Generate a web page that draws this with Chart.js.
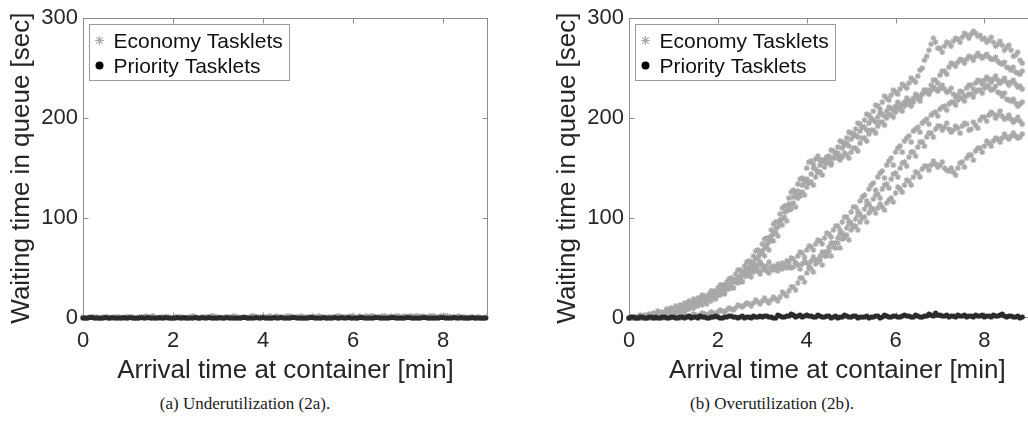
<!DOCTYPE html>
<html>
<head>
<meta charset="utf-8">
<script src="https://cdn.jsdelivr.net/npm/chart.js@4.4.1/dist/chart.umd.min.js"></script>
<style>
  html, body { margin: 0; padding: 0; background: #fff; overflow: hidden; }
  #page { position: relative; width: 1028px; height: 428px; overflow: hidden; background: #fff; }
  .panel { position: absolute; top: 0; height: 390px; }
  #wrapA { left: 0; width: 514px; }
  #wrapB { left: 514px; width: 537px; }
  .cap { position: absolute; top: 394px; font-family: "Liberation Serif", "Times New Roman", serif;
         font-size: 17px; color: #1a1a1a; white-space: nowrap; transform: translateX(-50%); }
</style>
</head>
<body>
<div id="page">
  <div class="panel" id="wrapA"><canvas id="chartA" width="514" height="390"></canvas></div>
  <div class="panel" id="wrapB"><canvas id="chartB" width="537" height="390"></canvas></div>
  <div class="cap" style="left:245px">(a) Underutilization (2a).</div>
  <div class="cap" style="left:772px">(b) Overutilization (2b).</div>
</div>
<script>
// Arrival times of the sampled tasklets [min]
const arrivalMin = [
  0.0,0.1,0.2,0.3,0.4,0.5,0.6,0.7,0.8,0.9,
  1.0,1.1,1.2,1.3,1.4,1.5,1.6,1.7,1.8,1.9,
  2.0,2.1,2.2,2.3,2.4,2.5,2.6,2.7,2.8,2.9,
  3.0,3.1,3.2,3.3,3.4,3.5,3.6,3.7,3.8,3.9,
  4.0,4.1,4.2,4.3,4.4,4.5,4.6,4.7,4.8,4.9,
  5.0,5.1,5.2,5.3,5.4,5.5,5.6,5.7,5.8,5.9,
  6.0,6.1,6.2,6.3,6.4,6.5,6.6,6.7,6.8,6.9,
  7.0,7.1,7.2,7.3,7.4,7.5,7.6,7.7,7.8,7.9,
  8.0,8.1,8.2,8.3,8.4,8.5,8.6,8.7,8.8,8.9
];
// Arrival times of the tasklets that came in between [min]
const arrivalMinMid = [
  0.05,0.15,0.25,0.35,0.45,0.55,0.65,0.75,0.85,0.95,
  1.05,1.15,1.25,1.35,1.45,1.55,1.65,1.75,1.85,1.95,
  2.05,2.15,2.25,2.35,2.45,2.55,2.65,2.75,2.85,2.95,
  3.05,3.15,3.25,3.35,3.45,3.55,3.65,3.75,3.85,3.95,
  4.05,4.15,4.25,4.35,4.45,4.55,4.65,4.75,4.85,4.95,
  5.05,5.15,5.25,5.35,5.45,5.55,5.65,5.75,5.85,5.95,
  6.05,6.15,6.25,6.35,6.45,6.55,6.65,6.75,6.85,6.95,
  7.05,7.15,7.25,7.35,7.45,7.55,7.65,7.75,7.85,7.95,
  8.05,8.15,8.25,8.35,8.45,8.55,8.65,8.75,8.85,8.95
];

// Axis ticks
const minuteTicks = [0, 2, 4, 6, 8];
const waitTicks = [0, 100, 200, 300];

// (a) Underutilization: waiting times [sec]
const underEconomy = [
  1,0,1,1,0,1,0,1,1,0,
  1,1,0,1,2,1,1,0,1,1,
  0,1,1,0,1,1,0,1,1,2,
  1,0,1,1,1,0,1,1,2,1,
  1,1,0,2,1,1,2,1,1,0,
  1,2,1,1,0,1,1,2,1,1,
  1,0,1,2,2,1,1,2,1,1,
  2,1,1,2,2,1,1,2,2,1,
  1,2,1,1,0,1,1,0,1,0
];
const underEconomyMid = [
  0,1,1,0,1,1,0,1,0,1,
  1,0,1,1,1,2,0,1,1,0,
  1,1,0,1,2,0,1,1,2,1,
  0,1,1,2,1,1,0,2,1,1,
  1,2,1,1,1,2,1,1,2,1,
  1,1,2,1,1,1,2,1,1,2,
  1,2,1,1,2,1,2,1,2,2,
  1,2,2,1,2,2,1,2,1,2,
  2,1,1,2,1,0,1,1,0,1
];
const underPriority = [
  0,0,0.5,0,0,0.5,0,0,0,0.5,
  0,0,0,0.5,0,0,0,0.5,0,0,
  0,0.5,0,0,0,0.5,0,0,0.5,0,
  0,0,0.5,0,0,0,0.5,0,0,0,
  0.5,0,0,0,0.5,0,0,0.5,0,0,
  0,0.5,0,0,0,0,0.5,0,0,0.5,
  0,0,0.5,0,0,0.5,0,0,0,0.5,
  0,0,0.5,0,0,0,0.5,0,0,0,
  0.5,0,0,0,0.5,0,0,0,0,0
];
const underPriorityMid = [
  0,0.5,0,0,0,0,0.5,0,0,0,
  0.5,0,0,0,0.5,0,0,0,0.5,0,
  0,0,0.5,0,0,0,0.5,0,0,0,
  0.5,0,0,0,0,0.5,0,0,0.5,0,
  0,0,0.5,0,0,0,0.5,0,0,0,
  0.5,0,0,0.5,0,0,0,0.5,0,0,
  0,0.5,0,0,0,0.5,0,0,0.5,0,
  0,0,0.5,0,0,0.5,0,0,0,0.5,
  0,0,0.5,0,0,0,0.5,0,0,0
];

// (b) Overutilization: priority waiting times [sec]
const overPriority = [
  0,1,0,1,0,1,1,0,1,0,
  1,0,1,1,0,1,2,1,0,1,
  1,0,1,2,1,1,0,1,2,1,
  1,2,1,0,2,1,2,3,2,1,
  3,2,1,2,1,2,1,0,1,2,
  1,2,1,1,0,1,2,1,2,1,
  2,1,3,2,1,2,1,2,3,5,
  3,2,1,2,3,2,1,2,3,2,
  1,2,3,2,4,1,2,1,0
];
const overPriorityMid = [
  1,0,1,0,1,0,0,1,0,1,
  0,1,0,2,1,0,1,0,1,2,
  0,1,2,1,0,2,1,0,1,2,
  2,1,0,3,1,2,4,1,3,2,
  2,1,3,1,2,0,2,1,3,1,
  2,0,1,2,1,2,0,3,1,2,
  1,2,2,1,3,1,2,4,2,3,
  2,3,2,1,2,3,2,1,2,3,
  2,1,2,3,2,2,1,2,1
];

// (b) Overutilization: economy waiting times [sec], one list per run
const overEconomyRun1 = [
  0,0,0,1,1,2,3,4,5,6,
  8,9,11,13,14,16,18,19,21,23,
  26,28,31,34,38,42,46,51,56,61,
  67,74,82,90,98,106,114,121,127,133,
  139,144,149,153,158,162,167,171,176,180,
  185,189,194,198,203,207,212,216,220,223,
  226,229,232,235,238,242,250,262,274,276,
  270,272,275,277,279,281,283,284,285,283,
  280,278,276,274,273,271,268,263,258
];
const overEconomyRun1Mid = [
  0,1,3,2,4,5,7,6,9,10,
  12,10,15,17,13,20,22,18,25,27,
  24,33,30,39,36,47,44,56,53,66,
  62,80,77,96,93,112,109,125,122,138,
  135,150,146,158,155,168,164,177,173,186,
  182,195,191,204,200,213,209,222,218,228,
  224,234,230,240,236,248,258,268,280,270,
  266,276,272,280,276,285,280,287,282,279,
  276,281,272,277,268,273,262,266,255
];
const overEconomyRun2 = [
  0,0,0,0,1,1,2,2,3,4,
  5,6,8,9,11,13,15,17,19,21,
  23,26,29,32,36,40,44,49,54,60,
  65,71,78,86,94,101,108,115,120,126,
  131,136,141,146,151,156,160,165,170,175,
  179,183,187,191,195,198,201,204,207,210,
  212,214,216,218,220,222,224,226,228,229,
  230,229,227,224,223,226,230,233,235,237,
  238,239,239,238,237,236,236,234,232
];
const overEconomyRun2Mid = [
  0,0,1,0,2,3,1,4,5,3,
  7,9,6,12,10,15,18,14,22,19,
  27,24,33,30,40,37,49,46,59,56,
  70,68,84,82,99,97,113,111,125,123,
  136,133,146,143,156,153,165,162,175,172,
  184,181,191,188,199,196,205,202,211,208,
  216,212,220,216,224,220,228,224,231,227,
  233,226,230,221,227,222,233,229,238,234,
  241,236,242,235,240,233,238,231,229
];
const overEconomyRun3 = [
  0,0,1,1,2,3,4,5,6,7,
  9,10,12,14,15,17,20,22,24,27,
  30,33,36,40,44,48,52,57,62,68,
  74,80,88,96,104,112,120,128,134,140,
  150,157,159,158,157,159,160,160,161,163,
  166,170,175,180,184,188,192,196,200,203,
  206,209,212,214,216,220,224,228,233,238,
  243,247,251,254,256,258,259,261,262,262,
  262,261,259,257,254,251,248,246,244
];
const overEconomyRun3Mid = [
  1,0,2,3,1,4,6,3,8,9,
  7,13,11,16,19,15,23,20,27,25,
  33,30,39,37,48,45,56,53,67,64,
  79,76,94,91,110,107,126,123,139,136,
  156,154,162,156,161,155,164,158,165,160,
  170,167,180,177,188,185,196,193,204,201,
  210,207,215,212,220,217,228,225,238,235,
  247,244,255,252,259,255,262,258,265,260,
  264,259,261,255,256,250,251,245,247
];
const overEconomyRun4 = [
  0,0,0,1,1,2,2,3,4,5,
  6,7,9,10,12,14,16,18,20,22,
  25,28,31,34,37,41,45,48,50,52,
  53,52,51,50,52,53,52,51,53,54,
  55,57,58,62,66,71,75,80,85,90,
  95,99,104,109,114,119,124,129,134,139,
  145,150,156,161,166,171,176,181,185,189,
  192,191,189,188,190,192,194,189,193,198,
  201,203,204,203,202,200,199,198,197
];
const overEconomyRun4Mid = [
  0,1,0,2,0,3,1,4,2,6,
  4,9,7,12,10,16,13,20,17,24,
  23,31,29,37,35,44,42,51,47,55,
  50,56,48,54,49,57,50,55,49,57,
  53,61,56,66,62,75,70,84,80,94,
  91,103,100,113,110,123,120,133,130,144,
  141,155,152,166,162,176,172,185,181,192,
  188,195,186,192,185,195,188,196,190,201,
  197,206,200,207,199,203,196,201,194
];
const overEconomyRun5 = [
  0,0,0,0,0,0,0,1,1,1,
  1,1,2,2,2,3,3,4,4,5,
  6,7,8,9,10,12,13,14,15,16,
  17,17,18,19,21,24,27,31,35,40,
  45,49,54,58,62,67,71,75,79,83,
  88,92,96,101,105,109,110,111,115,120,
  125,129,133,137,141,145,149,152,153,154,
  153,150,147,146,150,156,160,163,167,170,
  172,175,177,179,180,181,182,182,181
];
const overEconomyRun5Mid = [
  0,1,0,0,1,0,2,0,2,1,
  3,0,3,1,4,2,5,3,6,4,
  8,6,10,8,13,11,15,12,18,14,
  20,15,21,17,26,22,31,28,40,36,
  50,46,58,53,66,62,75,70,82,78,
  92,88,100,96,108,105,114,108,118,116,
  131,126,138,133,146,141,152,148,157,151,
  156,148,150,143,155,151,163,158,170,166,
  177,172,180,176,184,179,185,180,184
];
const overEconomyRun6 = [
  0,0,1,1,2,2,3,4,5,6,
  7,8,10,11,13,15,17,19,21,23,
  25,27,30,33,36,39,42,44,46,47,
  48,47,49,50,51,53,56,59,62,65,
  68,71,74,77,80,84,88,92,96,101,
  106,111,117,123,129,135,141,147,153,160,
  166,172,177,182,187,191,195,199,203,206,
  209,212,214,216,218,220,222,224,226,228,
  230,231,229,226,222,219,217,215,214
];
const overEconomyRun6Mid = [
  1,0,2,0,3,1,5,2,7,4,
  9,6,12,9,15,12,19,16,23,20,
  28,25,33,30,39,36,45,41,49,44,
  51,45,52,47,55,50,60,55,66,61,
  72,68,78,74,85,81,92,88,101,97,
  111,107,121,117,133,128,145,140,157,153,
  170,166,180,176,189,186,197,194,205,202,
  211,208,216,213,220,217,224,221,228,225,
  233,228,232,225,225,218,219,212,216
];

const economyLabel = 'Economy Tasklets';
const priorityLabel = 'Priority Tasklets';
const economyColor = '#a8a8a8';
const priorityColor = '#2b2b2b';

const toPoints = (ys) => ys.map((y, i) => ({ x: arrivalMin[i], y }));
const toMidPoints = (ys) => ys.map((y, i) => ({ x: arrivalMinMid[i], y }));

Chart.defaults.font.family = '"Liberation Sans", Arial, Helvetica, sans-serif';
Chart.defaults.color = '#262626';

// Box outline with inward ticks on all four sides
const boxTicks = {
  id: 'boxTicks',
  beforeDatasetsDraw(chart) {
    const { ctx, chartArea: a, scales: { x, y } } = chart;
    const L = Math.round(a.left) + 0.5, R = Math.round(a.right) - 0.5;
    const T = Math.round(a.top) + 0.5, B = Math.round(a.bottom) - 0.5;
    ctx.save();
    ctx.strokeStyle = '#8c8c8c';
    ctx.lineWidth = 1;
    ctx.strokeRect(L, T, R - L, B - T);
    ctx.beginPath();
    x.ticks.forEach(t => {
      const px = Math.round(x.getPixelForValue(t.value)) + 0.5;
      ctx.moveTo(px, B); ctx.lineTo(px, B - 5);
      ctx.moveTo(px, T); ctx.lineTo(px, T + 5);
    });
    y.ticks.forEach(t => {
      const py = Math.round(y.getPixelForValue(t.value)) + 0.5;
      ctx.moveTo(L, py); ctx.lineTo(L + 5, py);
      ctx.moveTo(R, py); ctx.lineTo(R - 5, py);
    });
    ctx.stroke();
    ctx.restore();
  }
};

// Legend box in the upper-left corner of the plot area
const boxLegend = {
  id: 'boxLegend',
  afterDatasetsDraw(chart) {
    const { ctx, chartArea: a } = chart;
    const bx = Math.round(a.left + 6) + 0.5, by = Math.round(a.top + 6) + 0.5;
    const bw = 200, bh = 56;
    ctx.save();
    ctx.fillStyle = '#fff';
    ctx.fillRect(bx, by, bw, bh);
    ctx.strokeStyle = '#9a9a9a';
    ctx.lineWidth = 1;
    ctx.strokeRect(bx, by, bw, bh);
    [economyLabel, priorityLabel].forEach((label, i) => {
      const ds = chart.data.datasets.find(d => d.label === label);
      const cy = by + 16 + i * 25;
      ctx.fillStyle = ds.legendColor;
      ctx.strokeStyle = ds.legendColor;
      ctx.lineWidth = ds.pointBorderWidth;
      Chart.helpers.drawPoint(ctx, {
        pointStyle: ds.pointStyle, radius: ds.legendRadius,
        borderWidth: ds.pointBorderWidth, rotation: 0
      }, bx + 10, cy);
      ctx.fillStyle = '#111';
      ctx.font = '21px "Liberation Sans", Arial, sans-serif';
      ctx.textBaseline = 'alphabetic';
      ctx.textAlign = 'left';
      ctx.fillText(label, bx + 24, cy + 7.5);
    });
    ctx.restore();
  }
};

function makeChart(canvasId, economyPts, priorityPts, axisWidth, rightPad, xMax) {
  return new Chart(document.getElementById(canvasId), {
    type: 'scatter',
    data: {
      datasets: [
        {
          label: priorityLabel, data: priorityPts, order: 0,
          pointStyle: 'circle', pointRadius: 2.6, pointBorderWidth: 0,
          backgroundColor: priorityColor, borderColor: priorityColor,
          legendColor: '#000', legendRadius: 4, clip: false
        },
        {
          label: economyLabel, data: economyPts, order: 1,
          pointStyle: 'star', pointRadius: 3, pointBorderWidth: 1.2,
          backgroundColor: economyColor, borderColor: economyColor,
          legendColor: economyColor, legendRadius: 4.5, clip: false
        }
      ]
    },
    options: {
      responsive: false,
      animation: false,
      events: [],
      layout: { padding: { top: 15, right: rightPad, bottom: 0, left: 0 } },
      plugins: { legend: { display: false }, tooltip: { enabled: false } },
      scales: {
        x: {
          type: 'linear', min: 0, max: xMax,
          afterBuildTicks: s => { s.ticks = minuteTicks.map(v => ({ value: v })); },
          afterFit: s => { s.height = 72; },
          grid: { display: false, drawTicks: false },
          border: { display: false },
          ticks: { font: { size: 22 }, padding: 10, maxRotation: 0, color: '#262626' },
          title: { display: true, text: 'Arrival time at container [min]',
                   font: { size: 26 }, color: '#262626', padding: { top: 0, bottom: 4 } }
        },
        y: {
          type: 'linear', min: 0, max: 300,
          afterBuildTicks: s => { s.ticks = waitTicks.map(v => ({ value: v })); },
          afterFit: s => { s.width = axisWidth; },
          grid: { display: false, drawTicks: false },
          border: { display: false },
          ticks: { font: { size: 22 }, padding: 5, color: '#262626' },
          title: { display: true, text: 'Waiting time in queue [sec]',
                   font: { size: 26 }, color: '#262626',
                   padding: { top: axisWidth - 83 + 6, bottom: 0 } }
        }
      }
    },
    plugins: [boxTicks, boxLegend]
  });
}

makeChart('chartA',
  [...toPoints(underEconomy), ...toMidPoints(underEconomyMid)],
  [...toPoints(underPriority), ...toMidPoints(underPriorityMid)],
  83, 26, 9);

const overEconomyPts = [
  ...[overEconomyRun1, overEconomyRun2, overEconomyRun3,
      overEconomyRun4, overEconomyRun5, overEconomyRun6].flatMap(toPoints),
  ...[overEconomyRun1Mid, overEconomyRun2Mid, overEconomyRun3Mid,
      overEconomyRun4Mid, overEconomyRun5Mid, overEconomyRun6Mid].flatMap(toMidPoints)
];
makeChart('chartB', overEconomyPts,
  [...toPoints(overPriority), ...toMidPoints(overPriorityMid)],
  115, 0, 9.38);
</script>
</body>
</html>
